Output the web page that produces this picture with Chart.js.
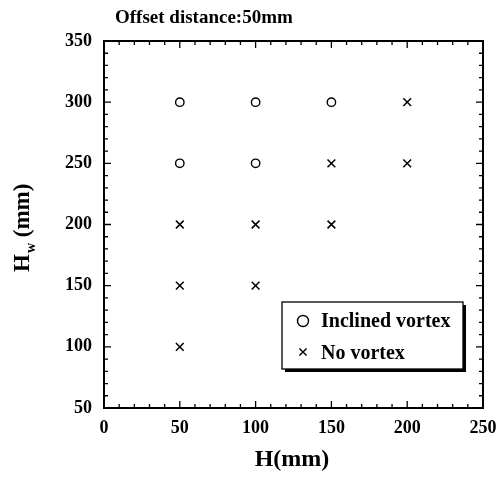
<!DOCTYPE html>
<html>
<head>
<meta charset="utf-8">
<script src="https://cdn.jsdelivr.net/npm/chart.js@4.4.0/dist/chart.umd.min.js"></script>
<style>
  html, body { margin: 0; padding: 0; background: #fff; }
  #wrap { width: 501px; height: 479px; }
</style>
</head>
<body>
<div id="wrap"><canvas id="grafico" width="501" height="479"></canvas></div>
<script>
// data: H (mm) vs Hw (mm)
const inclinedH  = [50, 100, 150, 50, 100];
const inclinedHw = [300, 300, 300, 250, 250];
const noVortexH  = [200, 150, 200, 50, 100, 150, 50, 100, 50];
const noVortexHw = [300, 250, 250, 200, 200, 200, 150, 150, 100];
const xTicks = [0, 50, 100, 150, 200, 250];
const yTicks = [50, 100, 150, 200, 250, 300, 350];
const seriesNames = ["Inclined vortex", "No vortex"];

const SERIF = '"Liberation Serif", "Times New Roman", serif';

function pares(xs, ys) {
  return xs.map((x, i) => ({ x: x, y: ys[i] }));
}

// frame, inner ticks, title, axis titles and legend box
const moldura = {
  id: "moldura",
  afterDraw(chart) {
    const ctx = chart.ctx;
    const a = chart.chartArea;
    const sx = chart.scales.x;
    const sy = chart.scales.y;
    ctx.save();
    ctx.strokeStyle = "#000";
    ctx.lineWidth = 2;
    ctx.strokeRect(a.left, a.top, a.right - a.left, a.bottom - a.top);

    ctx.lineWidth = 1.3;
    ctx.beginPath();
    for (let v = 0; v <= 250; v += 10) {
      const px = sx.getPixelForValue(v);
      const len = v % 50 === 0 ? 7 : 4;
      ctx.moveTo(px, a.bottom); ctx.lineTo(px, a.bottom - len);
      ctx.moveTo(px, a.top); ctx.lineTo(px, a.top + len);
    }
    for (let v = 50; v <= 350; v += 10) {
      const py = sy.getPixelForValue(v);
      const len = v % 50 === 0 ? 7 : 4;
      ctx.moveTo(a.left, py); ctx.lineTo(a.left + len, py);
      ctx.moveTo(a.right, py); ctx.lineTo(a.right - len, py);
    }
    ctx.stroke();

    ctx.fillStyle = "#000";
    ctx.textBaseline = "alphabetic";

    // title
    ctx.font = "bold 19px " + SERIF;
    ctx.textAlign = "left";
    ctx.fillText("Offset distance:50mm", 115, 23);

    // x axis title
    ctx.font = "bold 24px " + SERIF;
    ctx.textAlign = "center";
    ctx.fillText("H(mm)", 292, 466);

    // y axis title with subscript w
    ctx.save();
    ctx.translate(29, 272);
    ctx.rotate(-Math.PI / 2);
    ctx.textAlign = "left";
    ctx.font = "bold 23px " + SERIF;
    ctx.fillText("H", 0, 0);
    const wH = ctx.measureText("H").width;
    ctx.font = "bold 14px " + SERIF;
    ctx.fillText("w", wH + 1, 6);
    const wW = ctx.measureText("w").width;
    ctx.font = "bold 23px " + SERIF;
    ctx.fillText(" (mm)", wH + wW + 1, 0);
    ctx.restore();

    // legend box with drop shadow
    const bx = 282, by = 302, bw = 181, bh = 67;
    ctx.fillStyle = "#000";
    ctx.fillRect(bx + 3, by + 3, bw, bh);
    ctx.fillStyle = "#fff";
    ctx.fillRect(bx, by, bw, bh);
    ctx.lineWidth = 1.3;
    ctx.strokeRect(bx, by, bw, bh);

    ctx.lineWidth = 1.4;
    ctx.beginPath();
    ctx.arc(bx + 21, by + 19, 5.5, 0, Math.PI * 2);
    ctx.stroke();
    const cx = bx + 21, cy = by + 50, r = 3.6;
    ctx.beginPath();
    ctx.moveTo(cx - r, cy - r); ctx.lineTo(cx + r, cy + r);
    ctx.moveTo(cx - r, cy + r); ctx.lineTo(cx + r, cy - r);
    ctx.stroke();

    ctx.fillStyle = "#000";
    ctx.font = "bold 20px " + SERIF;
    ctx.textAlign = "left";
    ctx.fillText(seriesNames[0], bx + 39, by + 25);
    ctx.fillText(seriesNames[1], bx + 39, by + 57);
    ctx.restore();
  }
};

const ctx = document.getElementById("grafico").getContext("2d");
new Chart(ctx, {
  type: "scatter",
  data: {
    datasets: [
      {
        label: seriesNames[0],
        data: pares(inclinedH, inclinedHw),
        pointStyle: "circle",
        pointRadius: 4.2,
        pointBorderWidth: 1.4,
        pointBackgroundColor: "#fff",
        pointBorderColor: "#000"
      },
      {
        label: seriesNames[1],
        data: pares(noVortexH, noVortexHw),
        pointStyle: "crossRot",
        pointRadius: 5.5,
        pointBorderWidth: 1.5,
        pointBorderColor: "#000"
      }
    ]
  },
  options: {
    responsive: false,
    animation: false,
    layout: { padding: { left: 0, right: 18, top: 41, bottom: 0 } },
    plugins: {
      legend: { display: false },
      tooltip: { enabled: false }
    },
    scales: {
      x: {
        type: "linear",
        min: 0,
        max: 250,
        afterBuildTicks: s => { s.ticks = xTicks.map(v => ({ value: v })); },
        afterFit: s => { s.height = 71; s.paddingLeft = 0; s.paddingRight = 0; },
        grid: { display: false, drawTicks: false },
        border: { display: false },
        ticks: {
          color: "#000",
          padding: 10,
          maxRotation: 0,
          font: { family: SERIF, size: 18, weight: "bold" }
        }
      },
      y: {
        type: "linear",
        min: 50,
        max: 350,
        afterBuildTicks: s => { s.ticks = yTicks.map(v => ({ value: v })); },
        afterFit: s => { s.width = 104; s.paddingTop = 0; s.paddingBottom = 0; },
        grid: { display: false, drawTicks: false },
        border: { display: false },
        ticks: {
          color: "#000",
          padding: 12,
          font: { family: SERIF, size: 18, weight: "bold" }
        }
      }
    }
  },
  plugins: [moldura]
});
</script>
</body>
</html>
